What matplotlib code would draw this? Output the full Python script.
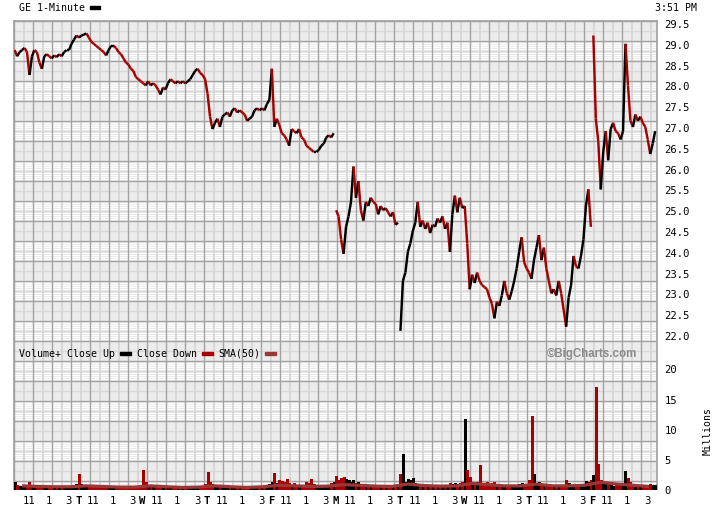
import matplotlib.pyplot as plt
import numpy as np
from matplotlib.patches import Rectangle
from matplotlib.collections import LineCollection

# GE 1-minute chart, 10 trading days, closes read every 15 minutes (26 per day)
day_letters = ['', 'T', 'W', 'T', 'F', 'M', 'T', 'W', 'T', 'F']
hour_labels = ['11', '1', '3']
hour_pos = [1.5 / 6.5, 3.5 / 6.5, 5.5 / 6.5]
price_ticks = [29.5, 29.0, 28.5, 28.0, 27.5, 27.0, 26.5, 26.0, 25.5, 25.0,
               24.5, 24.0, 23.5, 23.0, 22.5, 22.0]
vol_ticks = [0, 5, 10, 15, 20]

mon1 = [28.85, 28.7, 28.8, 28.85, 28.9, 28.8, 28.25, 28.7, 28.85, 28.8, 28.55, 28.4, 28.7,
        28.75, 28.7, 28.65, 28.72, 28.68, 28.75, 28.7, 28.8, 28.85, 28.85, 29.0, 29.1, 29.2]
tue1 = [29.15, 29.2, 29.22, 29.25, 29.15, 29.05, 29.0, 28.95, 28.9, 28.85, 28.8, 28.72, 28.85,
        28.95, 28.95, 28.9, 28.8, 28.75, 28.65, 28.55, 28.5, 28.4, 28.35, 28.2, 28.15, 28.1]
wed1 = [28.05, 28.0, 28.1, 28.0, 28.05, 28.0, 27.9, 27.78, 27.95, 27.9, 28.05, 28.15, 28.1,
        28.05, 28.1, 28.05, 28.1, 28.05, 28.1, 28.15, 28.25, 28.35, 28.4, 28.3, 28.25, 28.15]
thu1 = [27.8, 27.25, 26.95, 27.1, 27.2, 27.0, 27.25, 27.3, 27.35, 27.25, 27.4, 27.45, 27.35,
        27.4, 27.35, 27.3, 27.15, 27.2, 27.25, 27.4, 27.45, 27.4, 27.45, 27.4, 27.55, 27.65]
fri1 = [28.4, 27.0, 27.2, 27.05, 26.85, 26.8, 26.7, 26.55, 26.95, 26.9, 26.85, 26.95, 26.75,
        26.7, 26.55, 26.5, 26.45, 26.4, 26.4, 26.45, 26.55, 26.6, 26.75, 26.8, 26.75, 26.85]
mon2 = [25.0, 24.85, 24.3, 23.95, 24.6, 24.85, 25.2, 26.05, 25.3, 25.7, 25.0, 24.75, 25.2,
        25.1, 25.3, 25.2, 25.15, 24.9, 25.1, 25.0, 25.05, 24.95, 24.85, 24.95, 24.65, 24.7]
tue2 = [22.1, 23.3, 23.5, 24.0, 24.2, 24.5, 24.7, 25.2, 24.6, 24.75, 24.55, 24.7, 24.45,
        24.65, 24.6, 24.8, 24.7, 24.85, 24.55, 24.7, 24.0, 24.9, 25.35, 24.95, 25.3, 25.05]
wed2 = [25.1, 24.2, 23.1, 23.45, 23.25, 23.5, 23.3, 23.2, 23.15, 23.1, 22.9, 22.75, 22.4,
        22.8, 22.7, 22.95, 23.3, 23.0, 22.85, 23.05, 23.3, 23.6, 24.0, 24.35, 23.75, 23.6]
thu2 = [23.5, 23.35, 23.8, 24.1, 24.4, 23.8, 24.1, 23.6, 23.3, 23.0, 23.1, 22.95, 23.3,
        23.0, 22.6, 22.2, 22.9, 23.2, 23.9, 23.65, 23.6, 23.9, 24.3, 25.1, 25.5, 24.6]
fri2 = [29.2, 27.2, 26.65, 25.5, 26.4, 26.9, 26.2, 26.95, 27.1, 26.9, 26.85, 26.7, 26.9,
        29.0, 28.0, 27.15, 27.0, 27.3, 27.15, 27.25, 27.1, 27.0, 26.7, 26.35, 26.6, 26.9]
days = [mon1, tue1, wed1, thu1, fri1, mon2, tue2, wed2, thu2, fri2]
# day opens that gap away from the previous close (no connecting bar)
gap_open = [True, False, False, False, False, True, True, False, False, True]

# volume in millions, same sampling
vol_mon1 = [1.3, 0.8, 0.6, 0.5, 0.6, 0.4, 1.3, 0.5, 0.4, 0.5, 0.6, 0.7, 0.4,
            0.3, 0.4, 0.3, 0.4, 0.3, 0.4, 0.3, 0.4, 0.5, 0.4, 0.6, 0.7, 0.9]
vol_tue1 = [2.6, 0.9, 0.7, 0.6, 0.5, 0.6, 0.4, 0.5, 0.4, 0.3, 0.4, 0.5, 0.3,
            0.4, 0.3, 0.3, 0.2, 0.3, 0.2, 0.3, 0.3, 0.4, 0.3, 0.5, 0.6, 0.8]
vol_wed1 = [3.3, 1.2, 0.7, 0.5, 0.6, 0.4, 0.5, 0.6, 0.4, 0.3, 0.4, 0.3, 0.2,
            0.3, 0.2, 0.3, 0.2, 0.2, 0.3, 0.3, 0.4, 0.4, 0.5, 0.4, 0.6, 0.9]
vol_thu1 = [2.9, 1.3, 0.9, 0.6, 0.5, 0.6, 0.5, 0.4, 0.3, 0.4, 0.3, 0.2, 0.3,
            0.3, 0.2, 0.3, 0.2, 0.3, 0.3, 0.4, 0.3, 0.4, 0.4, 0.5, 0.6, 0.9]
vol_fri1 = [1.2, 2.8, 1.0, 1.6, 1.4, 1.2, 1.7, 1.0, 0.8, 1.1, 0.7, 0.6, 0.5,
            0.6, 1.3, 1.0, 1.7, 0.9, 0.7, 0.5, 0.4, 0.5, 0.6, 0.7, 1.0, 1.2]
vol_mon2 = [2.3, 1.6, 1.9, 2.0, 1.8, 1.5, 1.3, 1.6, 1.1, 1.2, 0.9, 0.8, 0.7,
            0.6, 0.7, 0.5, 0.6, 0.5, 0.6, 0.4, 0.5, 0.5, 0.6, 0.5, 0.7, 0.9]
vol_tue2 = [2.5, 5.8, 1.2, 1.8, 1.6, 1.9, 1.0, 0.9, 0.8, 0.6, 0.7, 0.5, 0.6,
            0.5, 0.4, 0.5, 0.4, 0.5, 0.6, 0.8, 1.0, 0.9, 1.1, 0.8, 1.0, 1.2]
vol_wed2 = [11.7, 3.2, 2.0, 1.2, 1.0, 1.3, 4.0, 1.0, 0.9, 1.2, 0.8, 1.0, 1.2,
            0.9, 0.7, 0.8, 0.6, 0.7, 0.5, 0.6, 0.7, 0.8, 0.9, 1.0, 0.8, 0.9]
vol_thu2 = [1.5, 12.2, 2.6, 1.0, 1.2, 0.8, 0.9, 0.7, 0.6, 0.8, 0.6, 0.5, 0.7,
            0.6, 0.8, 1.5, 1.0, 0.8, 0.9, 0.7, 0.6, 0.7, 0.9, 1.4, 1.2, 1.6]
vol_fri2 = [2.4, 17.0, 4.2, 1.5, 1.2, 1.0, 0.9, 0.8, 0.6, 0.7, 0.8, 0.6, 0.9,
            3.0, 1.9, 1.2, 0.8, 0.6, 0.5, 0.6, 0.5, 0.4, 0.6, 0.9, 0.7, 0.8]
vols = [vol_mon1, vol_tue1, vol_wed1, vol_thu1, vol_fri1,
        vol_mon2, vol_tue2, vol_wed2, vol_thu2, vol_fri2]

# 50-minute SMA of volume, read four times a day
vol_sma = [0.6, 0.5, 0.45, 0.45, 0.6, 0.5, 0.4, 0.4, 0.6, 0.45, 0.35, 0.4,
           0.6, 0.45, 0.35, 0.45, 0.7, 0.6, 0.5, 0.55, 0.8, 0.7, 0.55, 0.5,
           0.9, 0.65, 0.55, 0.6, 1.0, 0.8, 0.6, 0.6, 0.9, 0.6, 0.6, 0.7,
           1.2, 0.9, 0.7, 0.5]

UP = '#000000'
DOWN = '#a80000'
SMA_C = '#9a3838'
MONO = 'DejaVu Sans Mono'
FS = 7.1

W, H = 720, 510
fig = plt.figure(figsize=(7.2, 5.1), dpi=100)

def fx(px):
    return px / W

def fy(py):
    return 1 - py / H

L, R, T, B = 14, 657, 22, 490

# background grid (pixel units)
bg = fig.add_axes([fx(L), fy(B), fx(R - L), (B - T) / H])
bg.set_xlim(0, R - L)
bg.set_ylim(B - T, 0)
bg.set_facecolor('#ececec')
for k in range(1, 24, 2):
    ys = np.arange(20 * k + 1.5, min(20 * k + 20, B - T), 2)
    bg.hlines(ys, 0, R - L, color='white', lw=0.6, antialiased=False)
bg.hlines(np.arange(10, B - T, 20), 0, R - L, color='#d9d9d9', lw=1.0)
bg.vlines(np.arange(9.5, R - L, 19), 0, B - T, color='#d6d6d6', lw=1.3)
bg.hlines(np.arange(0, B - T, 20), 0, R - L, color='#a3a3a3', lw=1.0)
bg.vlines(np.arange(0, R - L, 19), 0, B - T, color='#a3a3a3', lw=1.0)
bg.set_xticks([])
bg.set_yticks([])
for s in bg.spines.values():
    s.set_color('#a0a0a0')
    s.set_linewidth(1.2)

# price panel
ax = fig.add_axes([fx(L), fy(336), fx(R - L), (336 - 24) / H])
ax.patch.set_alpha(0)
ax.set_xlim(0, 10)
ax.set_ylim(22.0, 29.5)
prev = None
for d, p in enumerate(days):
    xs = d + np.arange(len(p)) / 26 + 0.01
    px = list(xs)
    pp = list(p)
    if not gap_open[d] and prev is not None:
        px = [prev[0]] + px
        pp = [prev[1]] + pp
    segs = [[(px[i - 1], pp[i - 1]), (px[i], pp[i])] for i in range(1, len(pp))]
    cols = [UP if pp[i] >= pp[i - 1] else DOWN for i in range(1, len(pp))]
    ax.add_collection(LineCollection(segs, colors=cols, linewidths=1.75,
                                     capstyle='butt', joinstyle='miter'))
    prev = (xs[-1], p[-1])
ax.set_yticks(price_ticks)
ax.set_yticklabels(['%.1f' % v for v in price_ticks])
ax.yaxis.tick_right()
ax.tick_params(axis='y', length=0, pad=5.5, labelsize=7.6)
ax.set_xticks([])
for lab in ax.get_yticklabels():
    lab.set_family(MONO)
for s in ax.spines.values():
    s.set_visible(False)

# volume panel
vx = fig.add_axes([fx(L), fy(490.5), fx(R - L), 121 / H])
vx.patch.set_alpha(0)
vx.set_xlim(0, 10)
vx.set_ylim(0, 20)
last = None
for d, (p, v) in enumerate(zip(days, vols)):
    xs = d + np.arange(len(p)) / 26 + 0.01
    ref = [last if last is not None else p[0]] + list(p[:-1])
    cols = [UP if b >= a else DOWN for a, b in zip(ref, p)]
    vx.vlines(xs, 0, v, colors=cols, lw=1.0, antialiased=False)
    last = p[-1]
sx = np.arange(len(vol_sma)) / 4 + 0.125
vx.plot(sx, vol_sma, color=SMA_C, lw=2.3, solid_capstyle='butt')
vx.set_yticks(vol_ticks)
vx.set_yticklabels([str(v) for v in vol_ticks])
vx.yaxis.tick_right()
vx.tick_params(axis='y', length=0, pad=5.5, labelsize=7.6)

xt, xl = [], []
for d in range(10):
    if day_letters[d]:
        xt.append(d)
        xl.append(day_letters[d])
    for h, hp in zip(hour_labels, hour_pos):
        xt.append(d + hp)
        xl.append(h)
vx.set_xticks(xt)
vx.set_xticklabels(xl)
vx.tick_params(axis='x', length=0, pad=4, labelsize=7.6)
for lab in vx.get_xticklabels() + vx.get_yticklabels():
    lab.set_family(MONO)
    if lab.get_text() in day_letters[1:]:
        lab.set_fontweight('bold')
for s in vx.spines.values():
    s.set_visible(False)

# header and labels
fig.text(fx(19), fy(8), 'GE 1-Minute', family=MONO, fontsize=FS, va='center')
fig.patches.append(Rectangle((fx(90), fy(9.5)), fx(10), 3 / H, color=UP,
                             transform=fig.transFigure, figure=fig))
fig.text(fx(697), fy(8), '3:51 PM', family=MONO, fontsize=FS, va='center', ha='right')
fig.text(fx(708), fy(431), 'Millions', family=MONO, fontsize=FS, rotation=90,
         ha='center', va='center')

# legend row
fig.text(fx(19), fy(354), 'Volume+ Close Up', family=MONO, fontsize=FS, va='center')
fig.text(fx(137), fy(354), 'Close Down', family=MONO, fontsize=FS, va='center')
fig.text(fx(218), fy(354), 'SMA(50)', family=MONO, fontsize=FS, va='center')
for x0, c in [(120, UP), (202, DOWN), (265, SMA_C)]:
    fig.patches.append(Rectangle((fx(x0), fy(355.5)), fx(11), 3 / H, color=c,
                                 transform=fig.transFigure, figure=fig))
fig.text(fx(547), fy(354), '\u00a9BigCharts.com', family='Liberation Sans',
         fontweight='bold', fontsize=8.3, color='#8c8c8c', va='center')

fig.savefig('out.png', dpi=100)
